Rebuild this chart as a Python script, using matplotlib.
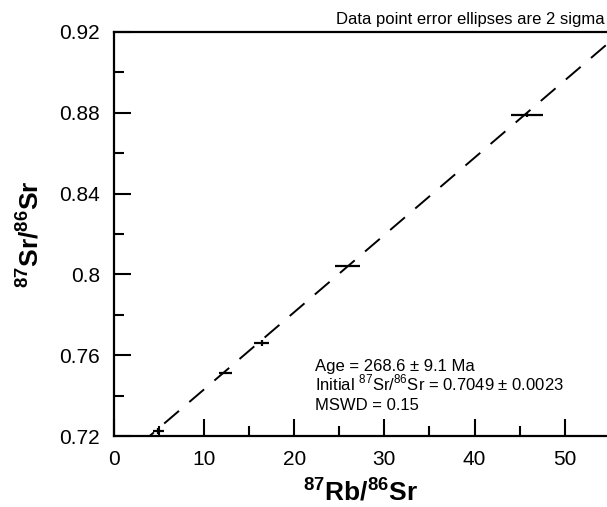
import numpy as np
import matplotlib
matplotlib.use('Agg')
import matplotlib.pyplot as plt
from matplotlib.ticker import MultipleLocator, FuncFormatter

plt.rcParams['font.family'] = ['Liberation Sans', 'DejaVu Sans']
plt.rcParams['mathtext.fontset'] = 'custom'
plt.rcParams['mathtext.rm'] = 'Liberation Sans'
plt.rcParams['mathtext.bf'] = 'Liberation Sans:bold'

# sample data (87Rb/86Sr, 87Sr/86Sr) with 2 sigma errors
rb_sr = [4.9, 12.4, 16.4, 25.9, 45.8]
sr_sr = [0.7226, 0.7512, 0.7662, 0.8042, 0.8789]
rb_err = [0.6, 0.7, 0.85, 1.4, 1.8]
sr_err = [0.0015, 0.0004, 0.0015, 0.0004, 0.0008]

# isochron fit
age_ma = 268.6
initial = 0.7049
decay = 1.42e-11
slope = np.exp(decay * age_ma * 1e6) - 1

x_max = 54.7

result_lines = ['Age = 268.6 ± 9.1 Ma',
                'Initial $^{87}$Sr/$^{86}$Sr = 0.7049 ± 0.0023',
                'MSWD = 0.15']
result_y = [0.7523, 0.7428, 0.7329]

fig = plt.figure(figsize=(6.07, 5.07), dpi=100)
ax = fig.add_axes([0.1878, 0.14, 1.0 - 0.1878, 0.7969])

xs = np.array([0, x_max])
ax.plot(xs, initial + slope * xs, color='black', lw=1.4, dashes=(10, 7))
ax.errorbar(rb_sr, sr_sr, xerr=rb_err, yerr=sr_err, fmt='none',
            ecolor='black', elinewidth=1.6, capsize=0)

ax.set_xlim(0, x_max)
ax.set_ylim(0.72, 0.92)
ax.xaxis.set_major_locator(MultipleLocator(10))
ax.xaxis.set_minor_locator(MultipleLocator(5))
ax.yaxis.set_major_locator(MultipleLocator(0.04))
ax.yaxis.set_minor_locator(MultipleLocator(0.02))
ax.yaxis.set_major_formatter(FuncFormatter(lambda v, p: '{:g}'.format(round(v, 2))))

for s in ['left', 'bottom', 'top']:
    ax.spines[s].set_linewidth(1.6)
ax.spines['right'].set_visible(False)

ax.tick_params(which='both', direction='in', width=1.5, labelsize=15,
               top=False, right=False)
ax.tick_params(which='major', length=12, pad=10)
ax.tick_params(which='minor', length=7)

ax.set_xlabel(r'$^{\mathbf{87}}$Rb/$^{\mathbf{86}}$Sr', fontsize=19,
              fontweight='bold', labelpad=6)
ax.set_ylabel(r'$^{\mathbf{87}}$Sr/$^{\mathbf{86}}$Sr', fontsize=19,
              fontweight='bold', labelpad=12)

ax.text(0.995, 1.012, 'Data point error ellipses are 2 sigma', transform=ax.transAxes,
        ha='right', va='bottom', fontsize=12)

for line, yv in zip(result_lines, result_y):
    ax.text(22.3, yv, line, ha='left', va='baseline', fontsize=12)

fig.savefig('out.png', dpi=100)
